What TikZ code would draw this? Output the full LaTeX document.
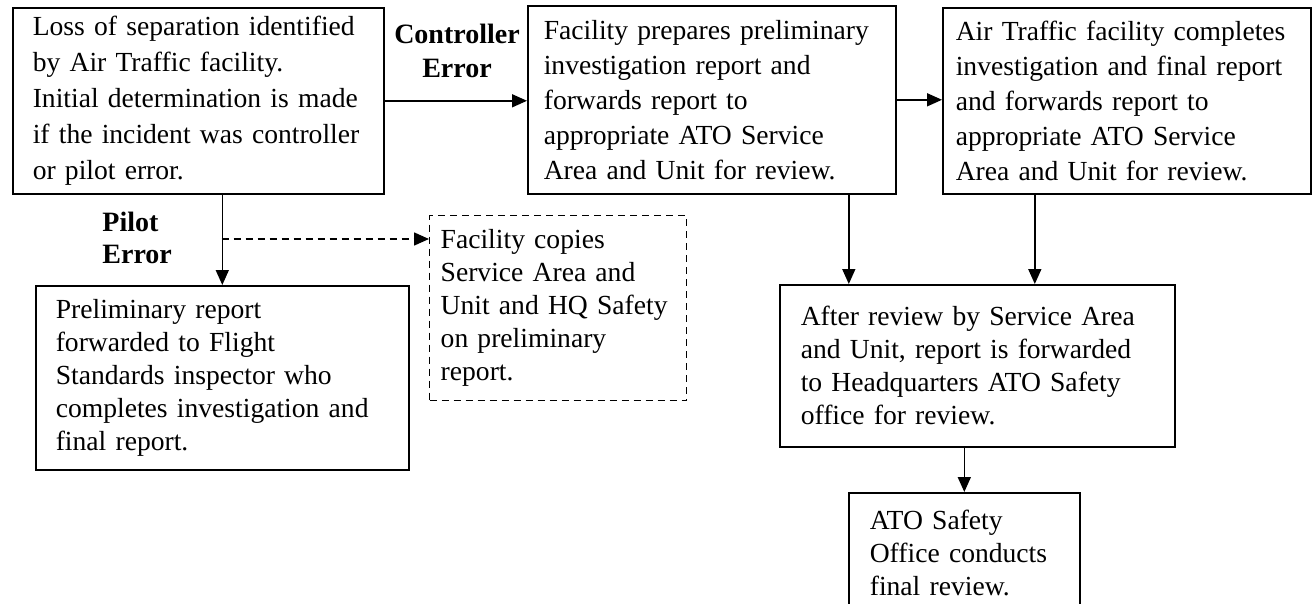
\documentclass[tikz,border=0pt]{standalone}
\usepackage{fontspec}
\setmainfont{Liberation Serif}
\usetikzlibrary{arrows.meta}
\newcommand{\Lm}[1]{\mbox{#1}}
\begin{document}
\begin{tikzpicture}[x=0.5pt,y=-0.5pt,
  box/.style={draw, line width=0.8pt, anchor=north west, align=left, inner ysep=0pt},
  fnt/.style={font=\fontsize{13.8}{#1}\selectfont},
  arr/.style={line width=0.8pt, -{Triangle[length=7.5pt,width=6.5pt]}},
  lbl/.style={inner sep=0pt, font=\bfseries\fontsize{14}{#1}\selectfont}]
\fill[white] (0,0) rectangle (1315,604);
\useasboundingbox (0,0) rectangle (1315,604);
\clip (0,0) rectangle (1315,604);

\node[box, fnt=18pt, inner xsep=10pt, text width=165.5pt, minimum height=93pt] (b1) at (12,7)
  {\Lm{Loss of separation identified}\\\Lm{by Air Traffic facility.}\\\Lm{Initial determination is made}\\\Lm{if the incident was controller}\\\Lm{or pilot error.}};
\node[box, fnt=17.5pt, inner xsep=8pt, text width=168pt, minimum height=94pt] (b2) at (527,5)
  {\Lm{Facility prepares preliminary}\\\Lm{investigation report and}\\\Lm{forwards report to}\\\Lm{appropriate ATO Service}\\\Lm{Area and Unit for review.}};
\node[box, fnt=17.5pt, inner xsep=6.5pt, text width=171pt, minimum height=93pt] (b3) at (942,7)
  {\Lm{Air Traffic facility completes}\\\Lm{investigation and final report}\\\Lm{and forwards report to}\\\Lm{appropriate ATO Service}\\\Lm{Area and Unit for review.}};
\node[box, fnt=16.5pt, inner xsep=10pt, text width=166.5pt, minimum height=92pt] (b4) at (35,285)
  {\Lm{Preliminary report}\\\Lm{forwarded to Flight}\\\Lm{Standards inspector who}\\\Lm{completes investigation and}\\\Lm{final report.}};
\node[box, fnt=16.5pt, line width=0.7pt, dash pattern=on 3.5pt off 2.5pt, inner xsep=5.5pt, text width=117.5pt, minimum height=92.5pt] (cc) at (429,215)
  {\Lm{Facility copies}\\\Lm{Service Area and}\\\Lm{Unit and HQ Safety}\\\Lm{on preliminary}\\\Lm{report.}};
\node[box, fnt=16.5pt, inner xsep=10.5pt, text width=176.5pt, minimum height=81pt] (b5) at (779,284)
  {\Lm{After review by Service Area}\\\Lm{and Unit, report is forwarded}\\\Lm{to Headquarters ATO Safety}\\\Lm{office for review.}};
\node[box, fnt=16.5pt, inner xsep=10.5pt, text width=94.5pt, minimum height=60pt] (b6) at (848,492)
  {\Lm{ATO Safety}\\\Lm{Office conducts}\\\Lm{final review.}};

\node[lbl=17pt, align=center] (ce) at (457,51) {Controller\\Error};
\node[lbl=16pt, align=left, anchor=west] (pe) at (102,238) {Pilot\\Error};

\draw[arr] (b1.east) -- (b1.east -| b2.west);
\draw[arr] (b2.east) -- (b2.east -| b3.west);
\draw[arr] (b1.south -| b4.north) -- (b4.north);
\coordinate (ds) at (221.5,239);
\draw[arr, dash pattern=on 3.5pt off 2.5pt] (ds) -- (ds -| cc.west);
\draw[arr] ([xshift=68.5pt]b2.south) -- ([xshift=68.5pt]b2.south |- b5.north);
\draw[arr] ([xshift=-46pt]b3.south) -- ([xshift=-46pt]b3.south |- b5.north);
\draw[arr] (b5.south -| b6.north) -- (b6.north);
\end{tikzpicture}
\end{document}
